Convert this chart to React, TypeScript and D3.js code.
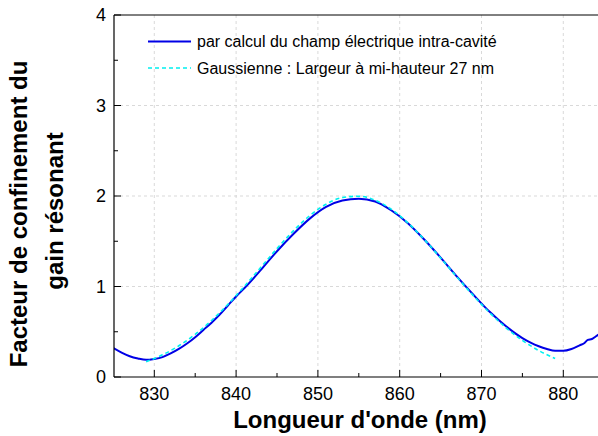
import React from 'react';
import * as d3 from 'd3';

// Wavelength (nm) and gain confinement factor
const calcX = [825, 826, 827, 828, 829, 830, 831, 832, 833, 834, 835, 836, 837, 838, 839, 840, 841, 843, 845, 847, 849, 851, 853, 855, 857, 859, 861, 863, 865, 867, 869, 871, 873, 875, 876, 877, 878, 879, 880, 881, 882, 882.5, 883, 883.5, 884, 884.5, 885];
const calcY = [0.32, 0.27, 0.23, 0.205, 0.19, 0.2, 0.22, 0.26, 0.31, 0.37, 0.44, 0.52, 0.6, 0.69, 0.79, 0.89, 0.98, 1.18, 1.39, 1.58, 1.75, 1.88, 1.95, 1.97, 1.94, 1.84, 1.7, 1.52, 1.32, 1.11, 0.91, 0.72, 0.56, 0.43, 0.38, 0.34, 0.31, 0.29, 0.29, 0.31, 0.35, 0.37, 0.41, 0.42, 0.45, 0.48, 0.52];

const gaussX = [829, 831, 833, 835, 837, 839, 841, 843, 845, 847, 849, 851, 853, 855, 857, 859, 861, 863, 865, 867, 869, 871, 873, 875, 877, 879];
const gaussY = [0.169, 0.245, 0.345, 0.471, 0.624, 0.802, 1.0, 1.209, 1.419, 1.615, 1.783, 1.909, 1.983, 1.998, 1.953, 1.852, 1.703, 1.52, 1.315, 1.104, 0.899, 0.71, 0.544, 0.405, 0.292, 0.204];

const xTicks = [830, 840, 850, 860, 870, 880];
const xMinor = [835, 845, 855, 865, 875];
const yTicks = [0, 1, 2, 3, 4];
const yMinor = [0.5, 1.5, 2.5, 3.5];

const legendLabels = [
  'par calcul du champ électrique intra-cavité',
  'Gaussienne : Largeur à mi-hauteur 27 nm',
];

const W = 598;
const H = 436;
const left = 114;
const top = 15;
const bottom = 377;

export default function App() {
  const x = d3.scaleLinear().domain([825, 885]).range([113.4, 604.2]);
  const y = d3.scaleLinear().domain([0, 4]).range([bottom, top]);

  const line = d3.line<[number, number]>()
    .x(d => x(d[0]))
    .y(d => y(d[1]))
    .curve(d3.curveMonotoneX);

  const calc = line(calcX.map((v, i) => [v, calcY[i]]) as [number, number][]) || '';
  const gauss = line(gaussX.map((v, i) => [v, gaussY[i]]) as [number, number][]) || '';

  const font = '"Liberation Sans", Arial, sans-serif';

  return (
    <svg width={W} height={H} style={{ position: 'absolute', left: 0, top: 0, background: '#fff' }} fontFamily={font}>
      <defs>
        <clipPath id="plot">
          <rect x={left} y={top} width={W - left} height={bottom - top} />
        </clipPath>
      </defs>

      {/* grid */}
      {xTicks.map(t => (
        <line key={'gx' + t} x1={x(t)} x2={x(t)} y1={top} y2={bottom} stroke="#cfcfcf" strokeWidth={0.8} strokeDasharray="3,3" />
      ))}
      {yTicks.slice(1, 4).map(t => (
        <line key={'gy' + t} x1={left} x2={W} y1={y(t)} y2={y(t)} stroke="#cfcfcf" strokeWidth={0.8} strokeDasharray="3,3" />
      ))}

      {/* curves */}
      <g clipPath="url(#plot)">
        <path d={calc} fill="none" stroke="#0000e6" strokeWidth={2} />
        <path d={gauss} fill="none" stroke="#00f0f0" strokeWidth={1.6} strokeDasharray="4,3" />
      </g>

      {/* frame */}
      <line x1={left} x2={W} y1={top} y2={top} stroke="#000" strokeWidth={1} />
      <line x1={left} x2={left} y1={top} y2={bottom} stroke="#000" strokeWidth={1.2} />
      <line x1={left} x2={W} y1={bottom} y2={bottom} stroke="#000" strokeWidth={1.2} />

      {/* x ticks */}
      {xTicks.map(t => (
        <g key={'xt' + t}>
          <line x1={x(t)} x2={x(t)} y1={bottom} y2={bottom - 7} stroke="#000" strokeWidth={1} />
          <text x={x(t)} y={400} textAnchor="middle" fontSize={18}>{t}</text>
        </g>
      ))}
      {xMinor.map(t => (
        <line key={'xm' + t} x1={x(t)} x2={x(t)} y1={bottom} y2={bottom - 4} stroke="#000" strokeWidth={1} />
      ))}

      {/* y ticks */}
      {yTicks.map(t => (
        <g key={'yt' + t}>
          <line x1={left} x2={left + 7} y1={y(t)} y2={y(t)} stroke="#000" strokeWidth={1} />
          <text x={106} y={y(t) + 6} textAnchor="end" fontSize={18}>{t}</text>
        </g>
      ))}
      {yMinor.map(t => (
        <line key={'ym' + t} x1={left} x2={left + 4} y1={y(t)} y2={y(t)} stroke="#000" strokeWidth={1} />
      ))}

      {/* legend */}
      <line x1={148} x2={191} y1={41.5} y2={41.5} stroke="#0000e6" strokeWidth={2} />
      <text x={197} y={47} fontSize={16}>{legendLabels[0]}</text>
      <line x1={148} x2={191} y1={68} y2={68} stroke="#00f0f0" strokeWidth={1.6} strokeDasharray="4,3" />
      <text x={197} y={73.5} fontSize={16}>{legendLabels[1]}</text>

      {/* axis titles */}
      <text x={360} y={428} textAnchor="middle" fontSize={24} fontWeight="bold">Longueur d'onde (nm)</text>
      <text transform="translate(27,214) rotate(-90)" textAnchor="middle" fontSize={24} fontWeight="bold">Facteur de confinement du</text>
      <text transform="translate(63,211) rotate(-90)" textAnchor="middle" fontSize={24} fontWeight="bold">gain résonant</text>
    </svg>
  );
}
